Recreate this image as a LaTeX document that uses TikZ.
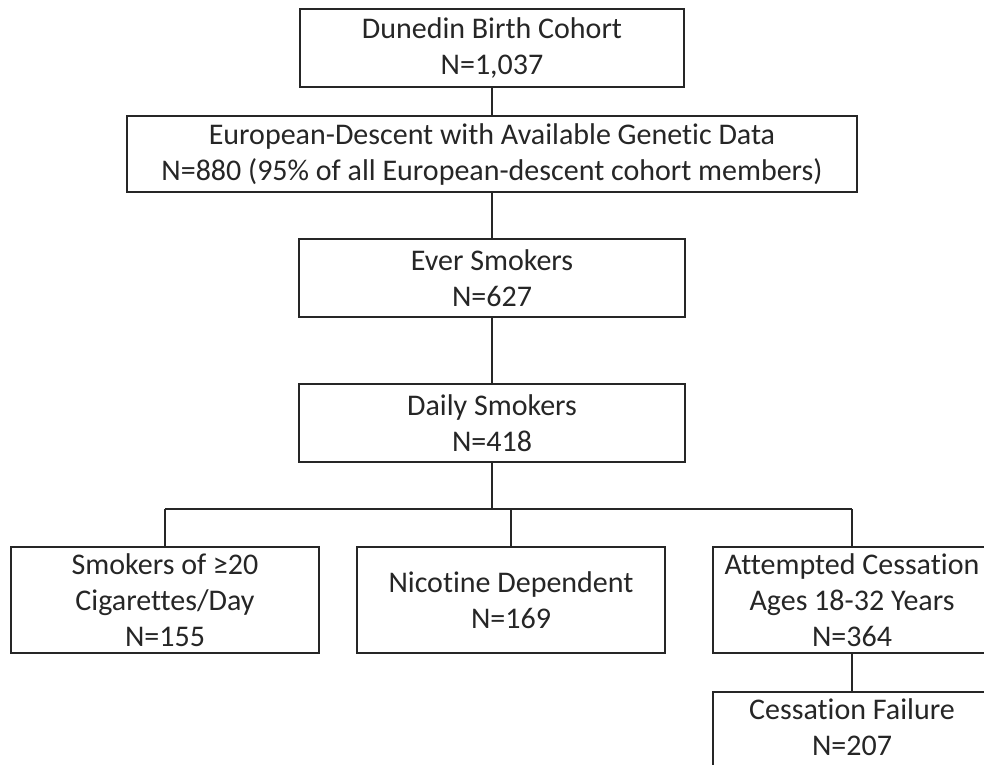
\documentclass[tikz,border=0pt]{standalone}
\usepackage{fontspec}
\setmainfont{Carlito}[Ligatures=CommonOff]
\begin{document}
\begin{tikzpicture}[x=1pt,y=-1pt,
  box/.style={draw=black!85, line width=1.6pt, fill=white, align=center, inner sep=0pt,
    text=black!85, font=\fontsize{30}{36}\selectfont},
  link/.style={draw=black!85, line width=1.6pt}]
\useasboundingbox (0,0) rectangle (984,764);
\clip (0,0) rectangle (984,764);
\node[box, minimum width=384, minimum height=78] (b1) at (492,48) {Dunedin Birth Cohort\\N=1,037};
\node[box, minimum width=730, minimum height=76] (b2) at (492,154) {European-Descent with Available Genetic Data\\N=880 (95\% of all European-descent cohort members)};
\node[box, minimum width=386, minimum height=78] (b3) at (492,278) {Ever Smokers\\N=627};
\node[box, minimum width=386, minimum height=78] (b4) at (492,423) {Daily Smokers\\N=418};
\node[box, minimum width=308, minimum height=106] (b5) at (165,600) {Smokers of ≥20\\Cigarettes/Day\\N=155};
\node[box, minimum width=308, minimum height=106] (b6) at (511,600) {Nicotine Dependent\\N=169};
\node[box, minimum width=278, minimum height=106] (b7) at (852,600) {Attempted Cessation\\Ages 18-32 Years\\N=364};
\node[box, minimum width=278, minimum height=116] (b8) at (852,750) {Cessation Failure\\N=207\\\strut};
\coordinate (bar) at (492,509);
\draw[link] (b1.south) -- (b2.north);
\draw[link] (b2.south) -- (b3.north);
\draw[link] (b3.south) -- (b4.north);
\draw[link] (b4.south) -- (bar);
\draw[link] (b5.north |- bar) -- (b7.north |- bar);
\draw[link] (b5.north |- bar) -- (b5.north);
\draw[link] (b6.north |- bar) -- (b6.north);
\draw[link] (b7.north |- bar) -- (b7.north);
\draw[link] (b7.south) -- (b8.north);
\end{tikzpicture}
\end{document}
